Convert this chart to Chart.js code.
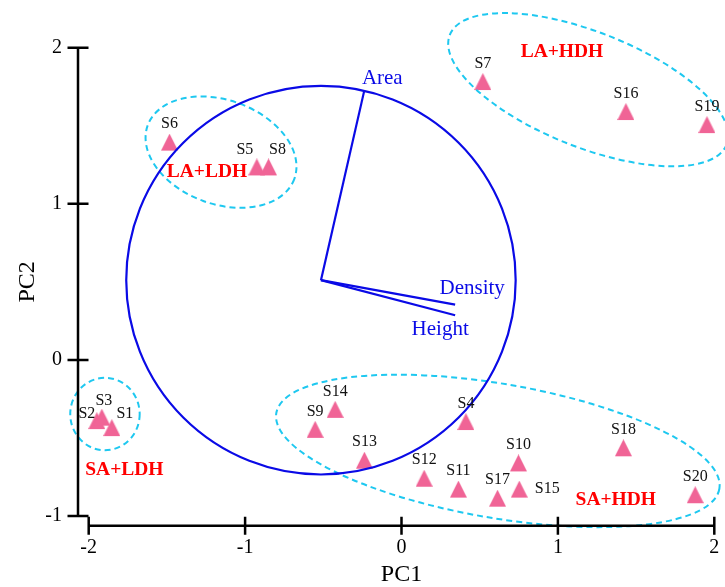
<!DOCTYPE html>
<html>
<head>
<meta charset="utf-8">
<title>PCA biplot</title>
<script src="https://cdn.jsdelivr.net/npm/chart.js@4.4.1/dist/chart.umd.min.js"></script>
<style>
  html, body { margin: 0; padding: 0; background: #fff; }
  #wrap { width: 725px; height: 587px; }
</style>
</head>
<body>
<div id="wrap"><canvas id="biplot" width="725" height="587"></canvas></div>
<script>
// Sample scores on PC1 / PC2
const samples = ['S1', 'S2', 'S3', 'S4', 'S5', 'S6', 'S7', 'S8', 'S9', 'S10',
                 'S11', 'S12', 'S13', 'S14', 'S15', 'S16', 'S17', 'S18', 'S19', 'S20'];
const pc1 = [-1.852, -1.948, -1.916, 0.412, -0.925, -1.483, 0.520, -0.850, -0.552, 0.748,
             0.364, 0.145, -0.237, -0.424, 0.753, 1.435, 0.614, 1.419, 1.953, 1.878];
const pc2 = [-0.453, -0.408, -0.386, -0.414, 1.217, 1.376, 1.764, 1.217, -0.464, -0.679,
             -0.847, -0.777, -0.662, -0.336, -0.847, 1.572, -0.905, -0.582, 1.488, -0.883];

// Trait loadings (arrow tips), arrows start from the circle centre
const traits = ['Area', 'Density', 'Height'];
const traitPC1 = [-0.238, 0.343, 0.343];
const traitPC2 = [1.725, 0.354, 0.286];
const loadingOrigin = [-0.515, 0.511];
const loadingRadius = 1.245;

// Tick values
const xTicks = [-2, -1, 0, 1, 2];
const yTicks = [-1, 0, 1, 2];

// Groups: label position and dashed ellipse (centre, semi-axes, tilt in degrees)
const groupNames = ['SA+LDH', 'LA+LDH', 'LA+HDH', 'SA+HDH'];
const groupLabelPC1 = [-1.772, -1.244, 1.026, 1.370];
const groupLabelPC2 = [-0.703, 1.206, 1.971, -0.900];
const ellipsePC1 = [-1.896, -1.154, 1.194, 0.616];
const ellipsePC2 = [-0.347, 1.331, 1.731, -0.583];
const ellipseA = [0.222, 0.499, 0.952, 1.437];
const ellipseB = [0.232, 0.333, 0.369, 0.430];
const ellipseTilt = [0, 20, 21.6, 9.7];

const BLUE = '#0a0ae6';
const PINK = '#f06496';
const SERIF = '"Liberation Serif", "Times New Roman", serif';

// label nudges in pixels (default is centred above the marker)
const labelNudge = { S1: [13, -17], S2: [-10, -10], S3: [2, -19], S5: [-12, -20], S8: [9, -20], S15: [28, -3] };
const traitNudge = { Area: [18, -12], Density: [17, -16], Height: [-15, 14] };

Chart.defaults.font.family = SERIF;

// filled triangle, canvas centre sits on the centroid
function makeTriangle(w, h, color) {
    const c = document.createElement('canvas');
    const cy = h * 2 / 3;
    c.width = w;
    c.height = Math.round(cy * 2);
    const g = c.getContext('2d');
    g.fillStyle = color;
    g.beginPath();
    g.moveTo(w / 2, 0);
    g.lineTo(w, h);
    g.lineTo(0, h);
    g.closePath();
    g.fill();
    return c;
}

const decorPlugin = {
    id: 'decor',
    afterDatasetsDraw(chart) {
        const { ctx, scales: { x, y } } = chart;
        const ux = x.getPixelForValue(1) - x.getPixelForValue(0);
        const uy = y.getPixelForValue(0) - y.getPixelForValue(1);
        ctx.save();

        // dashed group ellipses
        ctx.strokeStyle = '#1ec8f0';
        ctx.lineWidth = 2;
        ctx.setLineDash([6, 4]);
        groupNames.forEach((g, i) => {
            ctx.beginPath();
            ctx.ellipse(x.getPixelForValue(ellipsePC1[i]), y.getPixelForValue(ellipsePC2[i]),
                ellipseA[i] * ux, ellipseB[i] * uy, ellipseTilt[i] * Math.PI / 180, 0, Math.PI * 2);
            ctx.stroke();
        });

        // loading circle
        ctx.setLineDash([]);
        ctx.strokeStyle = BLUE;
        ctx.lineWidth = 2.2;
        ctx.beginPath();
        ctx.ellipse(x.getPixelForValue(loadingOrigin[0]), y.getPixelForValue(loadingOrigin[1]),
            loadingRadius * ux, loadingRadius * uy, 0, 0, Math.PI * 2);
        ctx.stroke();

        ctx.textAlign = 'center';
        ctx.textBaseline = 'middle';

        // sample labels
        ctx.fillStyle = '#111';
        ctx.font = '16px ' + SERIF;
        const meta = chart.getDatasetMeta(0);
        meta.data.forEach((pt, i) => {
            const n = labelNudge[samples[i]] || [0, -21];
            ctx.fillText(samples[i], pt.x + n[0], pt.y + n[1]);
        });

        // trait labels
        ctx.fillStyle = BLUE;
        ctx.font = '21px ' + SERIF;
        traits.forEach((t, i) => {
            const n = traitNudge[t];
            ctx.fillText(t, x.getPixelForValue(traitPC1[i]) + n[0], y.getPixelForValue(traitPC2[i]) + n[1]);
        });

        // group labels
        ctx.fillStyle = '#ff0000';
        ctx.font = 'bold 19.5px ' + SERIF;
        groupNames.forEach((g, i) => {
            ctx.fillText(g, x.getPixelForValue(groupLabelPC1[i]), y.getPixelForValue(groupLabelPC2[i]));
        });
        ctx.restore();
    },
    afterDraw(chart) {
        // offset axis lines with ticks crossing them
        const { ctx, chartArea, scales: { x, y } } = chart;
        const ax = chartArea.left - 10.7;
        const ay = chartArea.bottom + 9.7;
        ctx.save();
        ctx.strokeStyle = '#000';
        ctx.lineWidth = 2.5;
        ctx.beginPath();
        ctx.moveTo(ax, y.getPixelForValue(yTicks[yTicks.length - 1]));
        ctx.lineTo(ax, y.getPixelForValue(yTicks[0]));
        y.ticks.forEach(t => {
            const py = y.getPixelForValue(t.value);
            ctx.moveTo(ax - 10.5, py);
            ctx.lineTo(ax + 10.5, py);
        });
        ctx.moveTo(x.getPixelForValue(xTicks[0]), ay);
        ctx.lineTo(x.getPixelForValue(xTicks[xTicks.length - 1]), ay);
        x.ticks.forEach(t => {
            const px = x.getPixelForValue(t.value);
            ctx.moveTo(px, ay - 9);
            ctx.lineTo(px, ay + 9);
        });
        ctx.stroke();
        ctx.restore();
    }
};

const datasets = [{
    label: 'Samples',
    data: samples.map((s, i) => ({ x: pc1[i], y: pc2[i] })),
    pointStyle: makeTriangle(17, 17, PINK),
    pointRadius: 9,
    clip: false,
    order: 1
}];
traits.forEach((t, i) => {
    datasets.push({
        label: t,
        data: [{ x: loadingOrigin[0], y: loadingOrigin[1] }, { x: traitPC1[i], y: traitPC2[i] }],
        showLine: true,
        borderColor: BLUE,
        borderWidth: 2.2,
        pointRadius: 0,
        clip: false,
        order: 2
    });
});

new Chart(document.getElementById('biplot'), {
    type: 'scatter',
    data: { datasets },
    options: {
        responsive: false,
        animation: false,
        events: [],
        layout: { padding: { top: 47.7, right: 10.7, left: 0, bottom: 0 } },
        plugins: { legend: { display: false }, tooltip: { enabled: false } },
        scales: {
            x: {
                type: 'linear',
                min: xTicks[0],
                max: xTicks[xTicks.length - 1],
                afterBuildTicks: s => { s.ticks = xTicks.map(v => ({ value: v })); },
                afterFit: s => { s.height = 71; s.paddingLeft = 0; s.paddingRight = 0; },
                grid: { display: false, drawTicks: false },
                border: { display: false },
                ticks: { font: { size: 20 }, color: '#000', padding: 20, maxRotation: 0, autoSkip: false },
                title: { display: true, text: 'PC1', color: '#000', font: { size: 24, lineHeight: 1 }, padding: { top: 0, bottom: 0 } }
            },
            y: {
                type: 'linear',
                min: yTicks[0],
                max: yTicks[yTicks.length - 1],
                afterBuildTicks: s => { s.ticks = yTicks.map(v => ({ value: v })); },
                afterFit: s => { s.width = 88.7; s.paddingTop = 0; s.paddingBottom = 0; },
                grid: { display: false, drawTicks: false },
                border: { display: false },
                ticks: { font: { size: 20 }, color: '#000', padding: 26.7, autoSkip: false },
                title: { display: true, text: 'PC2', color: '#000', font: { size: 24, lineHeight: 1 }, padding: { top: 16, bottom: 0 } }
            }
        }
    },
    plugins: [decorPlugin]
});
</script>
</body>
</html>
